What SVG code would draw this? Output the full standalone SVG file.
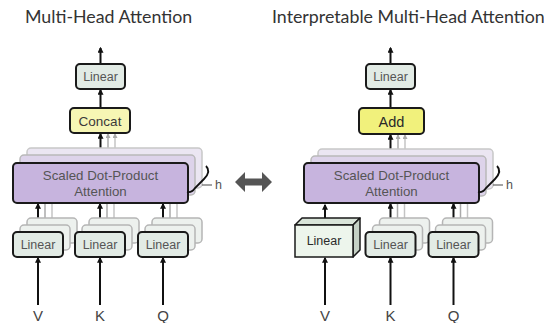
<svg xmlns="http://www.w3.org/2000/svg" width="544" height="323" viewBox="0 0 544 323">
<defs>
<style>
.title{font-family:Lato,"Open Sans",sans-serif;font-size:17.8px;fill:#333}
.lbl{font-family:"Liberation Sans",Arial,sans-serif;fill:#555;text-anchor:middle}
.in{font-family:"Liberation Sans",Arial,sans-serif;font-size:15px;fill:#444;text-anchor:middle}
.lin{fill:#e2ebe5;stroke:#1a1a1a;stroke-width:2}
.linb{fill:#edf1ee;stroke:#b5b5b5;stroke-width:1.5}
.att{fill:#c7b4de;stroke:#1a1a1a;stroke-width:2}
.attb1{fill:#ddd3ea;stroke:#b9b9b9;stroke-width:1.5}
.attb2{fill:#ebe6f2;stroke:#c8c8c8;stroke-width:1.5}
.ar{stroke:#111;stroke-width:2;fill:none}
.gr{stroke:#aaa;stroke-width:1.5;fill:none}
.gr2{stroke:#c4c4c4;stroke-width:1.5;fill:none}
</style>
<marker id="ah" viewBox="0 0 10 10" refX="8" refY="5" markerWidth="6" markerHeight="6" markerUnits="userSpaceOnUse" orient="auto"><path d="M0,0 L10,5 L0,10 z" fill="#111"/></marker>
<marker id="ahg" viewBox="0 0 10 10" refX="8" refY="5" markerWidth="5" markerHeight="5" markerUnits="userSpaceOnUse" orient="auto"><path d="M0,0 L10,5 L0,10 z" fill="#aaa"/></marker>
</defs>
<rect width="544" height="323" fill="#fff"/>

<text class="title" x="25" y="23">Multi-Head Attention</text>
<text class="title" x="272" y="23">Interpretable Multi-Head Attention</text>

<g id="connectors">
  <line class="ar" x1="100.5" y1="64" x2="100.5" y2="48" marker-end="url(#ah)"/>
  <line class="ar" x1="100.5" y1="108" x2="100.5" y2="90" marker-end="url(#ah)"/>
  <line class="gr2" x1="115" y1="148" x2="115" y2="134" marker-end="url(#ahg)"/>
  <line class="gr" x1="108" y1="155" x2="108" y2="134" marker-end="url(#ahg)"/>
  <line class="ar" x1="100.5" y1="163" x2="100.5" y2="134" marker-end="url(#ah)"/>
  <line class="gr2" x1="52" y1="218" x2="52" y2="203"/>
  <line class="gr" x1="45" y1="225" x2="45" y2="203"/>
  <line class="ar" x1="38" y1="232" x2="38" y2="204" marker-end="url(#ah)"/>
  <line class="gr2" x1="114" y1="218" x2="114" y2="203"/>
  <line class="gr" x1="107" y1="225" x2="107" y2="203"/>
  <line class="ar" x1="100" y1="232" x2="100" y2="204" marker-end="url(#ah)"/>
  <line class="gr2" x1="177" y1="218" x2="177" y2="203"/>
  <line class="gr" x1="170" y1="225" x2="170" y2="203"/>
  <line class="ar" x1="163" y1="232" x2="163" y2="204" marker-end="url(#ah)"/>
  <line class="ar" x1="38" y1="305" x2="38" y2="258" marker-end="url(#ah)"/>
  <line class="ar" x1="100" y1="305" x2="100" y2="258" marker-end="url(#ah)"/>
  <line class="ar" x1="163" y1="305" x2="163" y2="258" marker-end="url(#ah)"/>

  <line class="ar" x1="390.5" y1="64" x2="390.5" y2="48" marker-end="url(#ah)"/>
  <line class="ar" x1="390.5" y1="108" x2="390.5" y2="90" marker-end="url(#ah)"/>
  <line class="gr2" x1="405" y1="149" x2="405" y2="135" marker-end="url(#ahg)"/>
  <line class="gr" x1="398" y1="156" x2="398" y2="135" marker-end="url(#ahg)"/>
  <line class="ar" x1="390.5" y1="163" x2="390.5" y2="135" marker-end="url(#ah)"/>
  <line class="ar" x1="325" y1="218" x2="325" y2="205" marker-end="url(#ah)"/>
  <line class="gr2" x1="404.5" y1="218" x2="404.5" y2="203"/>
  <line class="gr" x1="397.5" y1="225" x2="397.5" y2="203"/>
  <line class="ar" x1="390.5" y1="232" x2="390.5" y2="204" marker-end="url(#ah)"/>
  <line class="gr2" x1="467.5" y1="218" x2="467.5" y2="203"/>
  <line class="gr" x1="460.5" y1="225" x2="460.5" y2="203"/>
  <line class="ar" x1="453.5" y1="232" x2="453.5" y2="204" marker-end="url(#ah)"/>
  <line class="ar" x1="325" y1="305" x2="325" y2="258" marker-end="url(#ah)"/>
  <line class="ar" x1="390.5" y1="305" x2="390.5" y2="258" marker-end="url(#ah)"/>
  <line class="ar" x1="453.5" y1="305" x2="453.5" y2="258" marker-end="url(#ah)"/>
</g>

<g id="mha-linear-out">
  <rect class="lin" x="76" y="64" width="49" height="25" rx="4"/>
  <text class="lbl" x="100.5" y="81" font-size="12.5">Linear</text>
</g>
<g id="mha-concat">
  <rect x="70" y="108" width="60" height="25" rx="4" fill="#f6f6b4" stroke="#1a1a1a" stroke-width="2"/>
  <text class="lbl" x="100" y="125.5" font-size="13.5" style="fill:#3a3a3a">Concat</text>
</g>
<g id="mha-attention">
  <rect class="attb2" x="27" y="148" width="175" height="40" rx="4"/>
  <rect class="attb1" x="20" y="155" width="175" height="40" rx="4"/>
  <rect class="att" x="13" y="163" width="175" height="40" rx="4"/>
  <text class="lbl" x="100.5" y="180" font-size="13.3">Scaled Dot-Product</text>
  <text class="lbl" x="100.5" y="196" font-size="13.3">Attention</text>
  <path d="M206 166 c4 4 2 9 -2 13 l-9 9 c-2 3 -4 5 -8 4" fill="none" stroke="#111" stroke-width="1.8"/>
  <line x1="202" y1="185" x2="212" y2="185" stroke="#666" stroke-width="1.2"/>
  <text x="215" y="189" font-family="Liberation Sans, Arial, sans-serif" font-size="12.5" fill="#555">h</text>
</g>
<g id="mha-linear-v">
  <rect class="linb" x="27" y="218" width="50" height="25" rx="4"/>
  <rect class="linb" x="20" y="225" width="50" height="25" rx="4"/>
  <rect class="lin" x="13" y="232" width="50" height="25" rx="4"/>
  <text class="lbl" x="38" y="249" font-size="12.5">Linear</text>
</g>
<g id="mha-linear-k">
  <rect class="linb" x="89" y="218" width="50" height="25" rx="4"/>
  <rect class="linb" x="82" y="225" width="50" height="25" rx="4"/>
  <rect class="lin" x="75" y="232" width="50" height="25" rx="4"/>
  <text class="lbl" x="100" y="249" font-size="12.5">Linear</text>
</g>
<g id="mha-linear-q">
  <rect class="linb" x="152" y="218" width="50" height="25" rx="4"/>
  <rect class="linb" x="145" y="225" width="50" height="25" rx="4"/>
  <rect class="lin" x="138" y="232" width="50" height="25" rx="4"/>
  <text class="lbl" x="163" y="249" font-size="12.5">Linear</text>
</g>
<g id="mha-inputs">
  <text class="in" x="38" y="321">V</text>
  <text class="in" x="100" y="321">K</text>
  <text class="in" x="163" y="321">Q</text>
</g>

<g id="equivalence">
  <polygon points="235,182 245,172 245,178.5 262,178.5 262,172 272,182 262,192 262,185.5 245,185.5 245,192" fill="#555"/>
</g>

<g id="imha-linear-out">
  <rect class="lin" x="366" y="64" width="49" height="25" rx="4"/>
  <text class="lbl" x="390.5" y="81" font-size="12.5">Linear</text>
</g>
<g id="imha-add">
  <rect x="359" y="108" width="65" height="26" rx="4" fill="#f1f17c" stroke="#1a1a1a" stroke-width="2"/>
  <text class="lbl" x="391.5" y="127" font-size="14.5" style="fill:#2a2a2a">Add</text>
</g>
<g id="imha-attention">
  <rect class="attb2" x="318" y="149" width="175" height="40" rx="4"/>
  <rect class="attb1" x="311" y="156" width="175" height="40" rx="4"/>
  <rect class="att" x="304" y="163" width="175" height="40" rx="4"/>
  <text class="lbl" x="391.5" y="180" font-size="13.3">Scaled Dot-Product</text>
  <text class="lbl" x="391.5" y="196" font-size="13.3">Attention</text>
  <path d="M497 166 c4 4 2 9 -2 13 l-9 9 c-2 3 -4 5 -8 4" fill="none" stroke="#111" stroke-width="1.8"/>
  <line x1="493" y1="185" x2="503" y2="185" stroke="#666" stroke-width="1.2"/>
  <text x="506" y="189" font-family="Liberation Sans, Arial, sans-serif" font-size="12.5" fill="#555">h</text>
</g>
<g id="imha-linear-v">
  <polygon points="295,225 302,218 360,218 353,225" fill="#d9e4d9" stroke="#1a1a1a" stroke-width="1.5" stroke-linejoin="round"/>
  <polygon points="353,225 360,218 360,250 353,257" fill="#c5d1c5" stroke="#1a1a1a" stroke-width="1.5" stroke-linejoin="round"/>
  <rect x="295" y="225" width="58" height="32" fill="#edf5ec" stroke="#1a1a1a" stroke-width="1.5"/>
  <text class="lbl" x="324" y="245" font-size="12.5" style="fill:#2a2a2a">Linear</text>
</g>
<g id="imha-linear-k">
  <rect class="linb" x="379.5" y="218" width="50" height="25" rx="4"/>
  <rect class="linb" x="372.5" y="225" width="50" height="25" rx="4"/>
  <rect class="lin" x="365.5" y="232" width="50" height="25" rx="4"/>
  <text class="lbl" x="390.5" y="249" font-size="12.5">Linear</text>
</g>
<g id="imha-linear-q">
  <rect class="linb" x="442.5" y="218" width="50" height="25" rx="4"/>
  <rect class="linb" x="435.5" y="225" width="50" height="25" rx="4"/>
  <rect class="lin" x="428.5" y="232" width="50" height="25" rx="4"/>
  <text class="lbl" x="453.5" y="249" font-size="12.5">Linear</text>
</g>
<g id="imha-inputs">
  <text class="in" x="325" y="321">V</text>
  <text class="in" x="390.5" y="321">K</text>
  <text class="in" x="453.5" y="321">Q</text>
</g>
</svg>
